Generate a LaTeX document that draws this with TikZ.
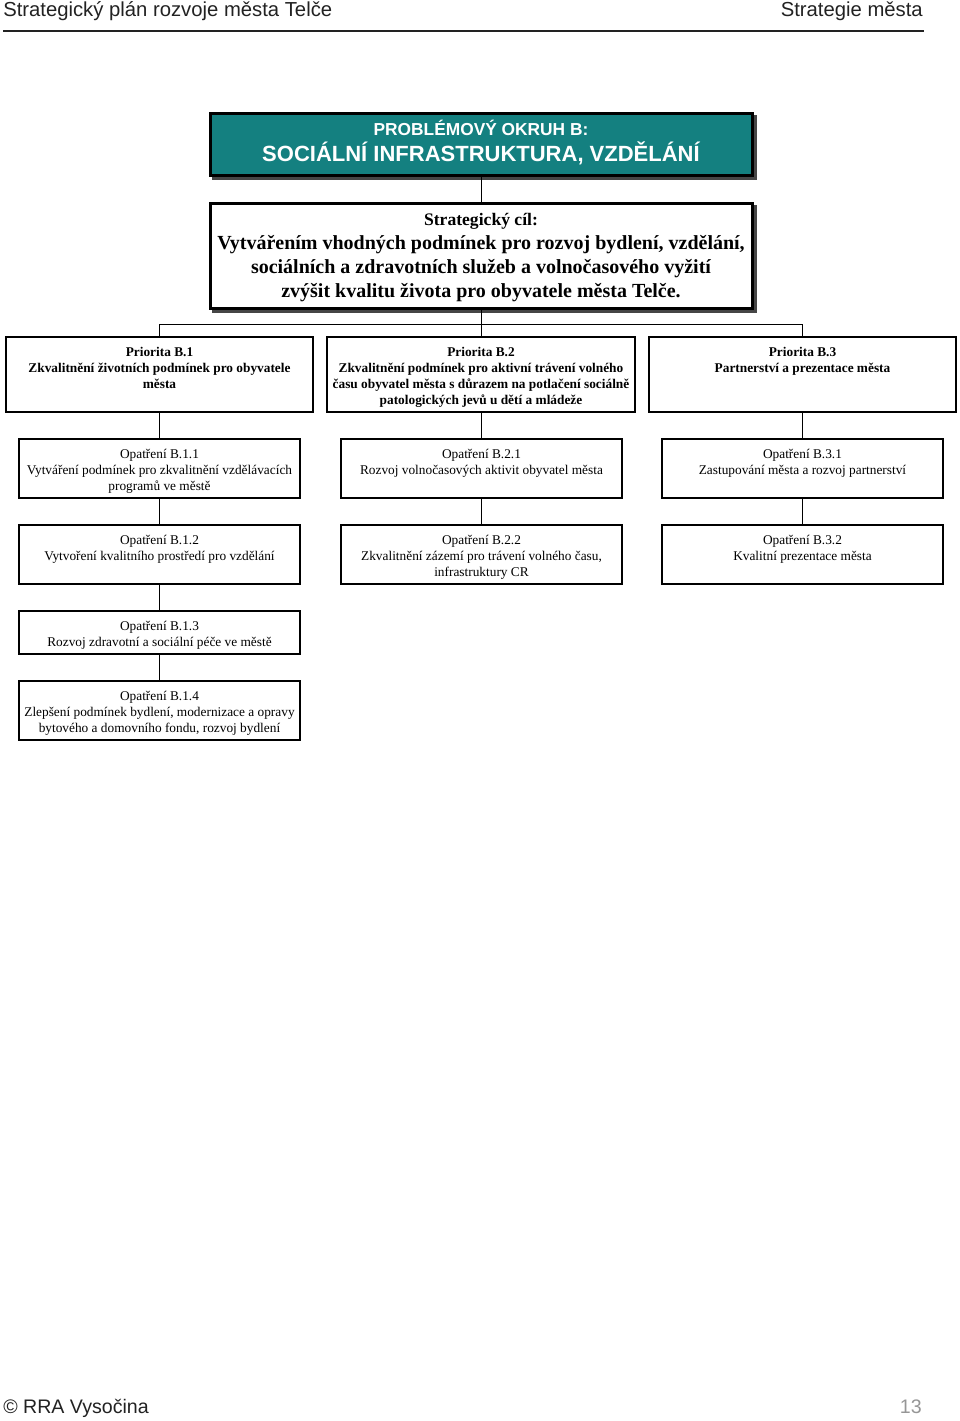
\documentclass[tikz,border=0pt]{standalone}
\usepackage{fontspec}
\setmainfont{Liberation Serif}
\setsansfont{Liberation Sans}
\usetikzlibrary{backgrounds}
\definecolor{teal1}{RGB}{20,128,128}
\definecolor{shadowc}{RGB}{70,70,70}
\definecolor{hdr}{RGB}{34,34,34}
\definecolor{pagenum}{RGB}{150,150,150}
\begin{document}
\begin{tikzpicture}[x=0.75pt,y=-0.75pt,
  box/.style={draw=black, line width=1.5pt, fill=white, inner sep=0pt},
  bigbox/.style={draw=black, line width=2.25pt, inner sep=0pt, minimum width=406.5pt},
  lbl/.style={inner sep=0pt, align=center, anchor=north},
  glbl/.style={lbl, font=\bfseries\fontsize{15pt}{18pt}\selectfont},
  plbl/.style={lbl, font=\bfseries\fontsize{10pt}{12pt}\selectfont},
  mlbl/.style={lbl, font=\fontsize{10pt}{12pt}\selectfont},
  hdrtext/.style={inner sep=0pt, text=hdr, font=\sffamily\fontsize{15.2pt}{18pt}\selectfont},
  foottext/.style={inner sep=0pt, text=hdr, font=\sffamily\fontsize{14.7pt}{18pt}\selectfont},
  conn/.style={draw=black, line width=0.75pt},
  pri/.style={box, minimum height=56.25pt},
  meas/.style={box, minimum width=210.75pt, minimum height=44.25pt}
]
\useasboundingbox (0,0) rectangle (960,1421);

% header
\node[hdrtext, anchor=base west] (hl) at (3,16) {Strategický plán rozvoje města Telče};
\node[hdrtext, anchor=base east] (hr) at (923,16) {Strategie města};
\coordinate (rulel) at (3,31);
\coordinate (ruler) at (924,31);
\draw[hdr, line width=1.5pt] (rulel) -- (ruler);

% title
\node[bigbox, fill=teal1, minimum height=46.5pt] (title) at (481,144) {};
\node[anchor=base, inner sep=0pt, text=white, font=\sffamily\bfseries\fontsize{13pt}{15pt}\selectfont] (t1) at (481,135) {PROBLÉMOVÝ OKRUH B:};
\node[anchor=base, inner sep=0pt, text=white, font=\sffamily\bfseries\fontsize{16.5pt}{19pt}\selectfont] (t2) at (481,161) {SOCIÁLNÍ INFRASTRUKTURA, VZDĚLÁNÍ};

% strategic goal
\node[bigbox, fill=white, minimum height=78.75pt] (goal) at (481,255.5) {};
\node[glbl] (gl) at (481,208.9) {\strut{\fontsize{13.2pt}{18pt}\selectfont Strategický cíl:}\\ Vytvářením vhodných podmínek pro rozvoj bydlení, vzdělání,\\ sociálních a zdravotních služeb a volnočasového vyžití\\ zvýšit kvalitu života pro obyvatele města Telče.};

\begin{scope}[on background layer]
  \fill[shadowc] ([shift={(3,3)}]title.north west) rectangle ([shift={(3,3)}]title.south east);
  \fill[shadowc] ([shift={(3,3)}]goal.north west) rectangle ([shift={(3,3)}]goal.south east);
\end{scope}

% priorities
\node[pri, minimum width=230.25pt] (p1) at (159.5,374.5) {};
\node[pri, minimum width=231pt] (p2) at (481,374.5) {};
\node[pri, minimum width=230.25pt] (p3) at (802.5,374.5) {};
\node[plbl] (p1l) at (159.5,344.8) {\strut Priorita B.1\\ Zkvalitnění životních podmínek pro obyvatele\\ města};
\node[plbl] (p2l) at (481,344.8) {\strut Priorita B.2\\ Zkvalitnění podmínek pro aktivní trávení volného\\ času obyvatel města s důrazem na potlačení sociálně\\ patologických jevů u dětí a mládeže};
\node[plbl] (p3l) at (802.5,344.8) {\strut Priorita B.3\\ Partnerství a prezentace města};

% measures
\node[meas] (m11) at (159.5,468.5) {};
\node[meas] (m12) at (159.5,554.5) {};
\node[meas, minimum height=32.25pt] (m13) at (159.5,632.5) {};
\node[meas] (m14) at (159.5,710.5) {};
\node[meas] (m21) at (481.5,468.5) {};
\node[meas] (m22) at (481.5,554.5) {};
\node[meas] (m31) at (802.5,468.5) {};
\node[meas] (m32) at (802.5,554.5) {};

\node[mlbl] (m11l) at (159.5,447.3) {\strut Opatření B.1.1\\ Vytváření podmínek pro zkvalitnění vzdělávacích\\ programů ve městě};
\node[mlbl] (m12l) at (159.5,533.3) {\strut Opatření B.1.2\\ Vytvoření kvalitního prostředí pro vzdělání};
\node[mlbl] (m13l) at (159.5,619.3) {\strut Opatření B.1.3\\ Rozvoj zdravotní a sociální péče ve městě};
\node[mlbl] (m14l) at (159.5,689.3) {\strut Opatření B.1.4\\ Zlepšení podmínek bydlení, modernizace a opravy\\ bytového a domovního fondu, rozvoj bydlení};
\node[mlbl] (m21l) at (481.5,447.3) {\strut Opatření B.2.1\\ Rozvoj volnočasových aktivit obyvatel města};
\node[mlbl] (m22l) at (481.5,533.3) {\strut Opatření B.2.2\\ Zkvalitnění zázemí pro trávení volného času,\\ infrastruktury CR};
\node[mlbl] (m31l) at (802.5,447.3) {\strut Opatření B.3.1\\ Zastupování města a rozvoj partnerství};
\node[mlbl] (m32l) at (802.5,533.3) {\strut Opatření B.3.2\\ Kvalitní prezentace města};

% connectors
\coordinate (bus) at (481,324);
\draw[conn] (title.south) -- (goal.north);
\draw[conn] (goal.south) -- (bus);
\draw[conn] (p1.north) -- (p1.north |- bus) -- (p3.north |- bus) -- (p3.north);
\draw[conn] (p2.north) -- (p2.north |- bus);
\draw[conn] (p1.south) -- (m11.north);
\draw[conn] (m11.south) -- (m12.north);
\draw[conn] (m12.south) -- (m13.north);
\draw[conn] (m13.south) -- (m14.north);
\draw[conn] (p2.south) -- (p2.south |- m21.north);
\draw[conn] (m21.south) -- (m22.north);
\draw[conn] (p3.south) -- (m31.north);
\draw[conn] (m31.south) -- (m32.north);

% footer
\node[foottext, anchor=base west] (fl) at (3,1413.5) {© RRA Vysočina};
\node[foottext, anchor=base east, text=pagenum] (fr) at (922,1413.5) {13};
\end{tikzpicture}
\end{document}
